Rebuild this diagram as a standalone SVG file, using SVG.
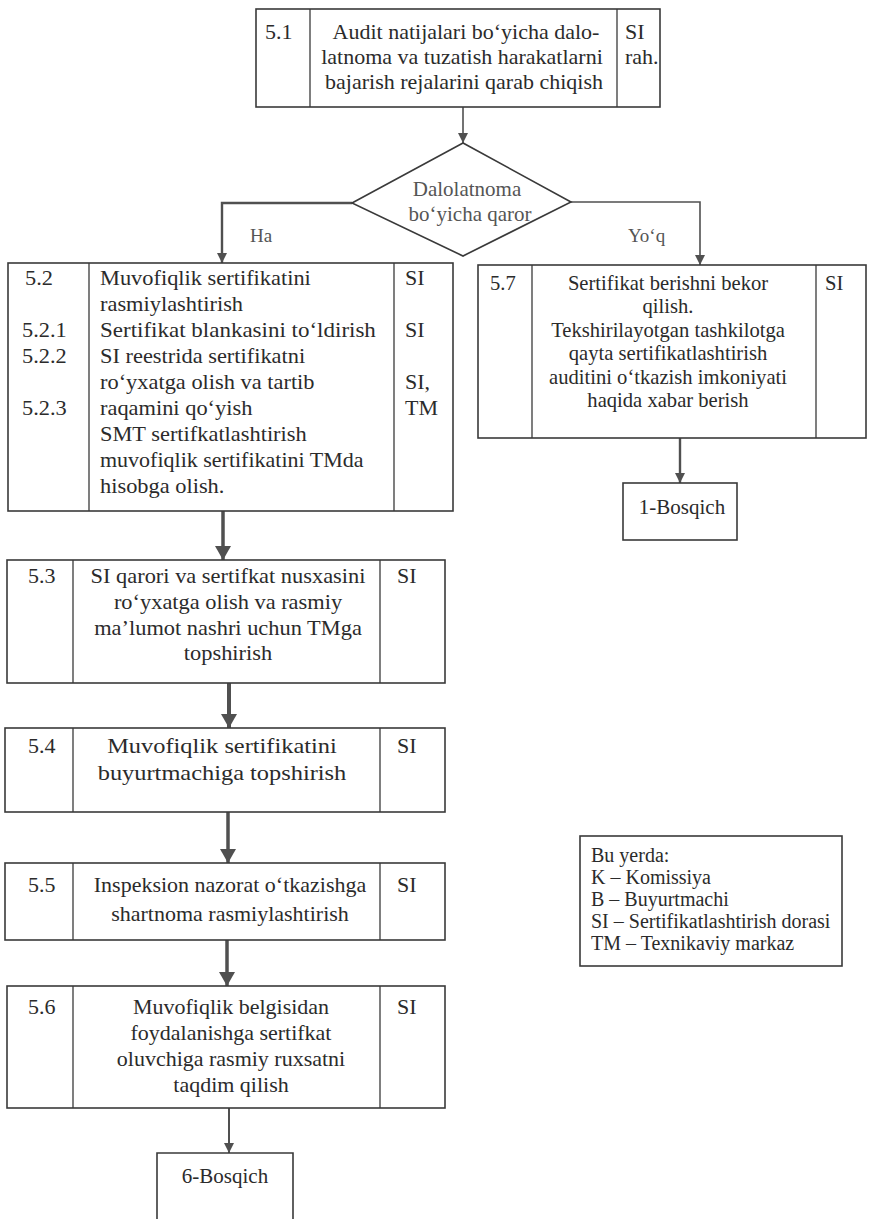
<svg xmlns="http://www.w3.org/2000/svg" width="870" height="1219" viewBox="0 0 870 1219" font-family="'Liberation Serif', 'Times New Roman', serif">
<style>
.bx{fill:none;stroke:#3a3a3a;stroke-width:1.6}
.dv{stroke:#3a3a3a;stroke-width:1.3}
text{font-family:"Liberation Serif","Times New Roman",serif;fill:#2b2b2b;font-size:20px}
.c{text-anchor:middle}
.g{fill:#555}
.sm{font-size:19px}
.cn{fill:none;stroke:#505050}
</style>
<defs>
<marker id="as" markerUnits="userSpaceOnUse" markerWidth="12" markerHeight="12" refX="10" refY="5" orient="auto"><path d="M0,0 L10,5 L0,10 z" fill="#505050"/></marker>
<marker id="al" markerUnits="userSpaceOnUse" markerWidth="16" markerHeight="18" refX="14" refY="8" orient="auto"><path d="M0,0 L14,8 L0,16 z" fill="#505050"/></marker>
</defs>
<rect width="870" height="1219" fill="#fff"/>

<g id="connectors">
<line class="cn" x1="463" y1="107" x2="463" y2="143" stroke-width="1.6" marker-end="url(#as)"/>
<polyline class="cn" points="352,203 222,203 222,263" stroke-width="2.4" marker-end="url(#as)"/>
<polyline class="cn" points="571,202 700,202 700,265" stroke-width="1.6" marker-end="url(#as)"/>
<line class="cn" x1="680" y1="438" x2="680" y2="483" stroke-width="2.4" marker-end="url(#as)"/>
<line class="cn" x1="223" y1="511" x2="223" y2="560" stroke-width="3.5" marker-end="url(#al)"/>
<line class="cn" x1="229" y1="683" x2="229" y2="728" stroke-width="4" marker-end="url(#al)"/>
<line class="cn" x1="228" y1="812" x2="228" y2="863" stroke-width="3.5" marker-end="url(#al)"/>
<line class="cn" x1="227" y1="940" x2="227" y2="986" stroke-width="3.5" marker-end="url(#al)"/>
<line class="cn" x1="229" y1="1108" x2="229" y2="1153" stroke-width="2" marker-end="url(#as)"/>
</g>

<g id="n51">
<rect class="bx" x="256" y="9" width="404" height="98"/>
<line class="dv" x1="310" y1="9" x2="310" y2="107"/>
<line class="dv" x1="617" y1="9" x2="617" y2="107"/>
<text transform="translate(265 39) scale(1.1 1.05)">5.1</text>
<text class="c" transform="translate(466 39) scale(1.1 1.05)">Audit natijalari bo‘yicha dalo-</text>
<text class="c" transform="translate(462 64) scale(1.1 1.05)">latnoma va tuzatish harakatlarni</text>
<text class="c" transform="translate(464 89) scale(1.1 1.05)">bajarish rejalarini qarab chiqish</text>
<text transform="translate(625 39) scale(1.1 1.05)">SI</text>
<text transform="translate(625 64) scale(1.1 1.05)">rah.</text>
</g>

<g id="decision">
<polygon class="bx" points="463,143 352,203 463,256 571,202"/>
<text class="c g" transform="translate(467 196) scale(1.05 1)">Dalolatnoma</text>
<text class="c g" transform="translate(470 221) scale(1.05 1)">bo‘yicha qaror</text>
<text class="g sm" x="250" y="242">Ha</text>
<text class="g sm" x="628" y="242">Yo‘q</text>
</g>

<g id="n52">
<rect class="bx" x="8" y="263" width="445" height="248"/>
<line class="dv" x1="89" y1="263" x2="89" y2="511"/>
<line class="dv" x1="394" y1="263" x2="394" y2="511"/>
<text transform="translate(25 285) scale(1.12 1.05)">5.2</text>
<text transform="translate(22 337) scale(1.12 1.05)">5.2.1</text>
<text transform="translate(22 363) scale(1.12 1.05)">5.2.2</text>
<text transform="translate(22 415) scale(1.12 1.05)">5.2.3</text>
<text transform="translate(100 285) scale(1.12 1.05)">Muvofiqlik sertifikatini</text>
<text transform="translate(100 311) scale(1.12 1.05)">rasmiylashtirish</text>
<text transform="translate(100 337) scale(1.15 1.05)">Sertifikat blankasini to‘ldirish</text>
<text transform="translate(100 363) scale(1.12 1.05)">SI reestrida sertifikatni</text>
<text transform="translate(100 389) scale(1.12 1.05)">ro‘yxatga olish va tartib</text>
<text transform="translate(100 415) scale(1.12 1.05)">raqamini qo‘yish</text>
<text transform="translate(100 441) scale(1.12 1.05)">SMT sertifkatlashtirish</text>
<text transform="translate(100 467) scale(1.1 1.05)">muvofiqlik sertifikatini TMda</text>
<text transform="translate(100 493) scale(1.12 1.05)">hisobga olish.</text>
<text transform="translate(405 285) scale(1.1 1.05)">SI</text>
<text transform="translate(405 337) scale(1.1 1.05)">SI</text>
<text transform="translate(405 389) scale(1.1 1.05)">SI,</text>
<text transform="translate(405 415) scale(1.1 1.05)">TM</text>
</g>

<g id="n57">
<rect class="bx" x="478" y="265" width="388" height="173"/>
<line class="dv" x1="532" y1="265" x2="532" y2="438"/>
<line class="dv" x1="816" y1="265" x2="816" y2="438"/>
<text transform="translate(490 290) scale(1.03 1.02)">5.7</text>
<text class="c" transform="translate(668 290) scale(1.03 1.02)">Sertifikat berishni bekor</text>
<text class="c" transform="translate(668 313) scale(1.03 1.02)">qilish.</text>
<text class="c" transform="translate(668 337) scale(1.03 1.02)">Tekshirilayotgan tashkilotga</text>
<text class="c" transform="translate(668 360) scale(1.03 1.02)">qayta sertifikatlashtirish</text>
<text class="c" transform="translate(668 384) scale(1.03 1.02)">auditini o‘tkazish imkoniyati</text>
<text class="c" transform="translate(668 407) scale(1.03 1.02)">haqida xabar berish</text>
<text transform="translate(825 290) scale(1.03 1.02)">SI</text>
</g>

<g id="b1">
<rect class="bx" x="623" y="483" width="114" height="57"/>
<text class="c" transform="translate(682 514) scale(1.05 1)">1-Bosqich</text>
</g>

<g id="n53">
<rect class="bx" x="7" y="560" width="438" height="123"/>
<line class="dv" x1="73" y1="560" x2="73" y2="683"/>
<line class="dv" x1="380" y1="560" x2="380" y2="683"/>
<text transform="translate(28 583) scale(1.1 1.05)">5.3</text>
<text class="c" transform="translate(228 583) scale(1.12 1.05)">SI qarori va sertifkat nusxasini</text>
<text class="c" transform="translate(228 609) scale(1.12 1.05)">ro‘yxatga olish va rasmiy</text>
<text class="c" transform="translate(228 635) scale(1.12 1.05)">ma’lumot nashri uchun TMga</text>
<text class="c" transform="translate(228 660) scale(1.12 1.05)">topshirish</text>
<text transform="translate(397 583) scale(1.1 1.05)">SI</text>
</g>

<g id="n54">
<rect class="bx" x="5" y="728" width="440" height="84"/>
<line class="dv" x1="73" y1="728" x2="73" y2="812"/>
<line class="dv" x1="380" y1="728" x2="380" y2="812"/>
<text transform="translate(28 753) scale(1.1 1.05)">5.4</text>
<text class="c" transform="translate(222 753) scale(1.22 1.1)">Muvofiqlik sertifikatini</text>
<text class="c" transform="translate(222 780) scale(1.22 1.1)">buyurtmachiga topshirish</text>
<text transform="translate(397 753) scale(1.1 1.05)">SI</text>
</g>

<g id="n55">
<rect class="bx" x="5" y="863" width="440" height="77"/>
<line class="dv" x1="73" y1="863" x2="73" y2="940"/>
<line class="dv" x1="380" y1="863" x2="380" y2="940"/>
<text transform="translate(28 892) scale(1.1 1.05)">5.5</text>
<text class="c" transform="translate(230 892) scale(1.1 1.05)">Inspeksion nazorat o‘tkazishga</text>
<text class="c" transform="translate(230 921) scale(1.1 1.05)">shartnoma rasmiylashtirish</text>
<text transform="translate(397 892) scale(1.1 1.05)">SI</text>
</g>

<g id="n56">
<rect class="bx" x="7" y="986" width="438" height="122"/>
<line class="dv" x1="73" y1="986" x2="73" y2="1108"/>
<line class="dv" x1="380" y1="986" x2="380" y2="1108"/>
<text transform="translate(28 1014) scale(1.1 1.05)">5.6</text>
<text class="c" transform="translate(231 1014) scale(1.1 1.05)">Muvofiqlik belgisidan</text>
<text class="c" transform="translate(231 1040) scale(1.1 1.05)">foydalanishga sertifkat</text>
<text class="c" transform="translate(231 1066) scale(1.1 1.05)">oluvchiga rasmiy ruxsatni</text>
<text class="c" transform="translate(231 1092) scale(1.1 1.05)">taqdim qilish</text>
<text transform="translate(397 1014) scale(1.1 1.05)">SI</text>
</g>

<g id="b6">
<polyline class="bx" points="157,1219 157,1153 293,1153 293,1219"/>
<text class="c" transform="translate(225 1183) scale(1.05 1)">6-Bosqich</text>
</g>

<g id="legend">
<rect class="bx" x="580" y="836" width="262" height="130"/>
<text x="591" y="862">Bu yerda:</text>
<text x="591" y="884">K – Komissiya</text>
<text x="591" y="906">B – Buyurtmachi</text>
<text x="591" y="928">SI – Sertifikatlashtirish dorasi</text>
<text x="591" y="950">TM – Texnikaviy markaz</text>
</g>
</svg>
